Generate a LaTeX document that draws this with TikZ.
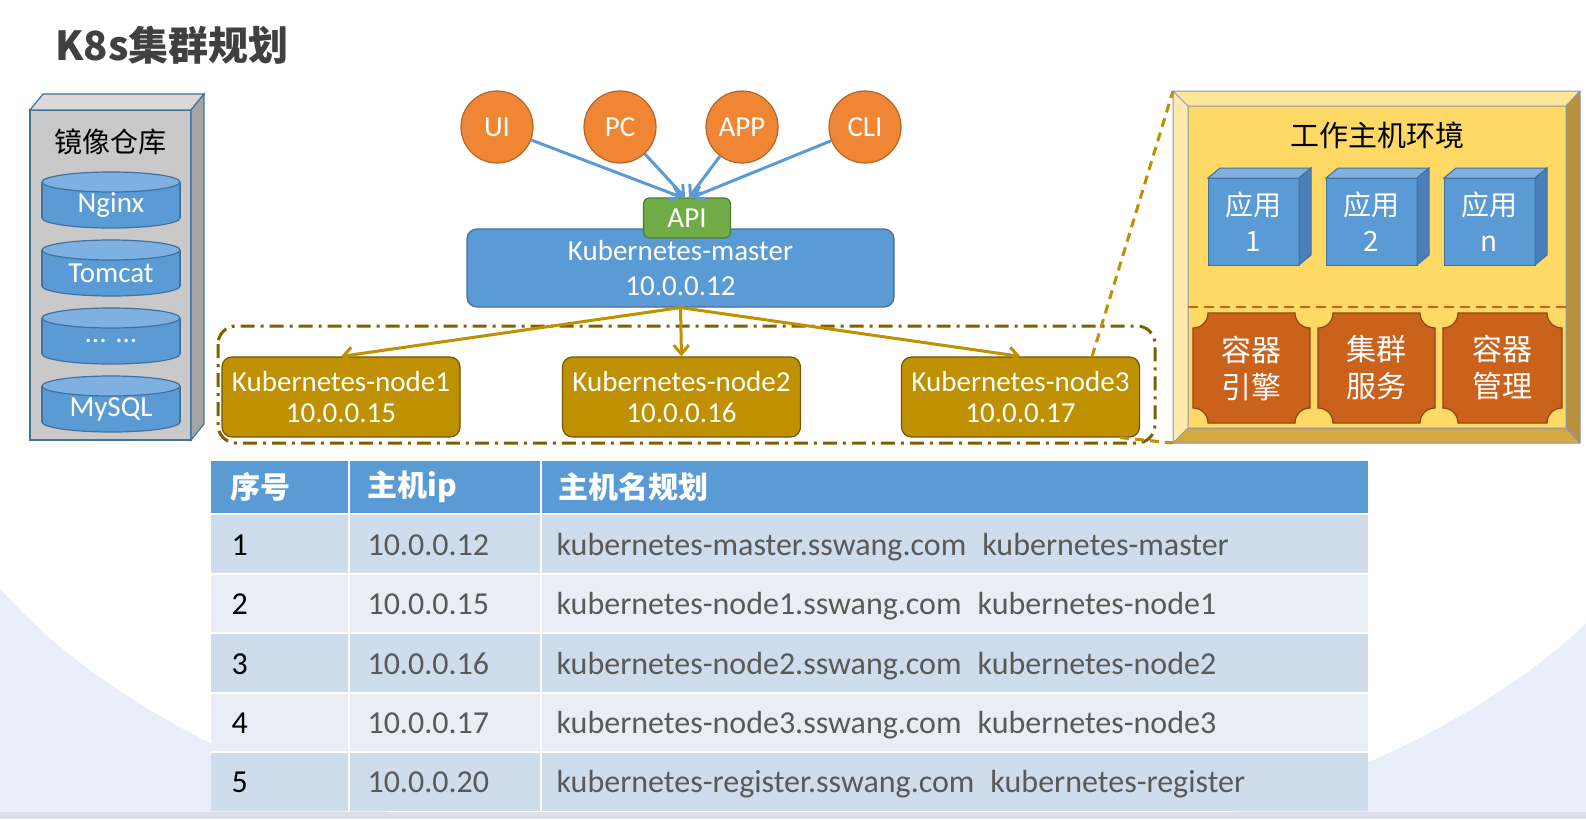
\documentclass[tikz,border=0pt]{standalone}
\usepackage{fontspec}
\setmainfont{Carlito}
\newfontfamily\cjk{Noto Sans CJK SC}
\usetikzlibrary{arrows.meta}

\definecolor{ktitle}{HTML}{404040}
\definecolor{kblue}{HTML}{5B9BD5}
\definecolor{kblueline}{HTML}{41719C}
\definecolor{kbluetop}{HTML}{7EB1E2}
\definecolor{kblueside}{HTML}{4A80B8}
\definecolor{korange}{HTML}{F08634}
\definecolor{kgreen}{HTML}{70AD47}
\definecolor{kgold}{HTML}{BF9000}
\definecolor{kbrown}{HTML}{7F6000}
\definecolor{krust}{HTML}{CB621C}
\definecolor{kyellow}{HTML}{FFD966}
\definecolor{bevtop}{HTML}{FFE699}
\definecolor{bevleft}{HTML}{FFEAAE}
\definecolor{bevright}{HTML}{B8913A}
\definecolor{bevbot}{HTML}{D4A843}
\definecolor{frameline}{HTML}{8497B0}
\definecolor{regfront}{HTML}{C9C9C9}
\definecolor{regtop}{HTML}{DADADA}
\definecolor{regside}{HTML}{A5A5A5}
\definecolor{bgblue}{HTML}{E9EEFB}
\definecolor{bandgray}{HTML}{DCE0EA}
\definecolor{rowdark}{HTML}{CFDCEC}
\definecolor{rowlight}{HTML}{E9EEF6}
\definecolor{celltext}{HTML}{595959}

% one database of the image store
\newcommand{\dbcyl}[3]{%
  \filldraw[fill=kblue,draw=kblueline,line width=1.2pt] (111,#2+46) ellipse (69 and 10);
  \fill[kblue] (42,#2+10) rectangle (180,#2+46);
  \draw[kblueline,line width=1.2pt] (42,#2+10) -- (42,#2+46) (180,#2+10) -- (180,#2+46);
  \filldraw[fill=kbluetop,draw=kblueline,line width=1.2pt] (111,#2+10) ellipse (69 and 10);
  \node[cyltext] (#1) at (111,#2+33) {#3};}

% box with hollow corners
\newcommand{\plaque}[4]{%
  \filldraw[fill=krust,draw=krust!70!black,line width=1.2pt]
    (#1+15,#2) -- (#3-15,#2) .. controls (#3-15,#2+8.3) and (#3-8.3,#2+15) .. (#3,#2+15)
    -- (#3,#4-15) .. controls (#3-8.3,#4-15) and (#3-15,#4-8.3) .. (#3-15,#4)
    -- (#1+15,#4) .. controls (#1+15,#4-8.3) and (#1+8.3,#4-15) .. (#1,#4-15)
    -- (#1,#2+15) .. controls (#1+8.3,#2+15) and (#1+15,#2+8.3) .. (#1+15,#2) -- cycle;}

\begin{document}
\begin{tikzpicture}[x=1pt,y=-1pt,
    client/.style={circle,draw=korange!75!black,fill=korange,line width=1.2pt,
      minimum size=72pt,inner sep=0pt,text=white,font=\fontsize{29}{35}\selectfont},
    apibox/.style={rectangle,rounded corners=6pt,fill=kgreen,draw=kgreen!70!black,
      line width=1.2pt,minimum width=87pt,minimum height=40pt,text=white,
      font=\fontsize{29}{35}\selectfont},
    masterbox/.style={rectangle,rounded corners=10pt,fill=kblue,draw=kblueline,
      line width=1.2pt,minimum width=427pt,minimum height=78pt,align=center,
      text=white,font=\fontsize{29}{35}\selectfont},
    workerbox/.style={rectangle,rounded corners=10pt,fill=kgold,draw=kgold!60!black,
      line width=1.2pt,minimum width=238pt,minimum height=80pt,align=center,
      text=white,font=\fontsize{29}{31}\selectfont},
    bluearrow/.style={draw=kblue,line width=3pt,-{Straight Barb[length=9pt,width=15pt]}},
    goldarrow/.style={draw=kgold,line width=3pt,-{Straight Barb[length=9pt,width=15pt]}},
    zoomline/.style={draw=kgold,line width=3pt,dash pattern=on 9pt off 6pt},
    cyltext/.style={text=white,font=\fontsize{29}{35}\selectfont},
    cube/.style={rectangle,fill=kblue,draw=kblueline,line width=1pt,outer sep=0pt,
      minimum width=91pt,minimum height=87pt,align=center,text=white,
      font=\cjk\fontsize{28}{36}\selectfont},
    ptext/.style={align=center,text=white,font=\cjk\fontsize{30}{37}\selectfont},
    headcell/.style={anchor=west,text=white,font=\cjk\bfseries\fontsize{30}{36}\selectfont},
    numcell/.style={anchor=base west,text=black,font=\fontsize{32}{38}\selectfont},
    cell/.style={anchor=base west,text=celltext,font=\fontsize{32}{38}\selectfont}]

  % page and background
  \useasboundingbox (0,0) rectangle (1586,819);
  \begin{scope}
    \clip (0,0) rectangle (1586,819);
    \fill[white] (0,0) rectangle (1586,819);
    \fill[bgblue] (0,370) rectangle (1586,819);
    \fill[white] (810,370) ellipse (900 and 500);
    \fill[bandgray] (0,812) rectangle (1586,819);
  \end{scope}

  \node[anchor=west,text=ktitle,font=\cjk\bfseries\fontsize{40}{48}\selectfont] (title) at (52,45) {K8s集群规划};

  % image store
  \node[rectangle,fill=regfront,draw=kblueline,line width=1.2pt,outer sep=0pt,
    minimum width=161pt,minimum height=330pt] (reg) at (110.5,275) {};
  \filldraw[fill=regtop,draw=kblueline,line width=1.2pt] (reg.north west) -- ++(13,-16) -- ++(161,0) -- (reg.north east) -- cycle;
  \filldraw[fill=regside,draw=kblueline,line width=1.2pt] (reg.north east) -- ++(13,-16) -- ++(0,330) -- (reg.south east) -- cycle;
  \node[text=black,font=\cjk\fontsize{28}{34}\selectfont] (regname) at (110,142) {镜像仓库};
  \dbcyl{nginx}{172}{Nginx}
  \dbcyl{tomcat}{240}{Tomcat}
  \dbcyl{more}{308}{... ...}
  \dbcyl{mysql}{376}{MySQL}

  % clients and master
  \node[client] (ui) at (497,127) {UI};
  \node[client] (pc) at (620,127) {PC};
  \node[client] (app) at (742,127) {APP};
  \node[client] (cli) at (865,127) {CLI};

  \node[masterbox] (master) at (680.5,268) {Kubernetes-master\\10.0.0.12};
  \node[apibox] (api) at (687,218) {API};

  \draw[bluearrow] (ui) -- ([xshift=-5pt]api.north);
  \draw[bluearrow] (pc) -- ([xshift=-2pt]api.north);
  \draw[bluearrow] (app) -- ([xshift=2pt]api.north);
  \draw[bluearrow] (cli) -- ([xshift=5pt]api.north);

  % worker nodes
  \draw[kbrown,line width=3pt,rounded corners=18pt,dash pattern=on 14pt off 6pt on 3pt off 6pt]
    (218,326) rectangle (1155,443);
  \node[workerbox] (node1) at (341,397) {Kubernetes-node1\\10.0.0.15};
  \node[workerbox] (node2) at (681.5,397) {Kubernetes-node2\\10.0.0.16};
  \node[workerbox] (node3) at (1020.5,397) {Kubernetes-node3\\10.0.0.17};

  \draw[goldarrow] (master.south) -- (node1.north);
  \draw[goldarrow] (master.south) -- (node2.north);
  \draw[goldarrow] (master.south) -- (node3.north);

  % work host environment
  \fill[bevtop] (1173,91) -- (1580,91) -- (1566,106) -- (1188,106) -- cycle;
  \fill[bevleft] (1173,91) -- (1188,106) -- (1188,428) -- (1173,443) -- cycle;
  \fill[bevright] (1580,91) -- (1580,443) -- (1566,428) -- (1566,106) -- cycle;
  \fill[bevbot] (1173,443) -- (1580,443) -- (1566,428) -- (1188,428) -- cycle;
  \fill[kyellow] (1188,106) rectangle (1566,428);
  \draw[frameline,line width=1pt] (1173,91) rectangle (1580,443)
    (1188,106) rectangle (1566,428)
    (1173,91) -- (1188,106) (1580,91) -- (1566,106)
    (1173,443) -- (1188,428) (1580,443) -- (1566,428);
  \coordinate (envtl) at (1173,91);
  \coordinate (envbl) at (1173,443);
  \draw[zoomline] ([xshift=-48pt]node3.north east) -- (envtl);
  \draw[zoomline] ([xshift=-20pt]node3.south east) -- (envbl);

  \node[text=black,font=\cjk\fontsize{29}{35}\selectfont] (envname) at (1377,135) {工作主机环境};

  \node[cube] (app1) at (1253.5,221.5) {应用\\1};
  \node[cube] (app2) at (1371.5,221.5) {应用\\2};
  \node[cube] (appn) at (1489.5,221.5) {应用\\n};
  \filldraw[fill=kbluetop,draw=kblueline,line width=1pt] (app1.north west) -- ++(12,-10) -- ++(91,0) -- (app1.north east) -- cycle;
  \filldraw[fill=kblueside,draw=kblueline,line width=1pt] (app1.north east) -- ++(12,-10) -- ++(0,87) -- (app1.south east) -- cycle;
  \filldraw[fill=kbluetop,draw=kblueline,line width=1pt] (app2.north west) -- ++(12,-10) -- ++(91,0) -- (app2.north east) -- cycle;
  \filldraw[fill=kblueside,draw=kblueline,line width=1pt] (app2.north east) -- ++(12,-10) -- ++(0,87) -- (app2.south east) -- cycle;
  \filldraw[fill=kbluetop,draw=kblueline,line width=1pt] (appn.north west) -- ++(12,-10) -- ++(91,0) -- (appn.north east) -- cycle;
  \filldraw[fill=kblueside,draw=kblueline,line width=1pt] (appn.north east) -- ++(12,-10) -- ++(0,87) -- (appn.south east) -- cycle;

  \draw[krust,line width=2.5pt,dash pattern=on 10pt off 6pt] (1188,307) -- (1566,307);

  \plaque{1193}{313}{1310}{423}
  \plaque{1318}{313}{1435}{423}
  \plaque{1443}{313}{1562}{423}
  \node[ptext] (engine) at (1251.5,368) {容器\\引擎};
  \node[ptext] (service) at (1376.5,368) {集群\\服务};
  \node[ptext] (manage) at (1502.5,368) {容器\\管理};

  % host table
  \fill[kblue] (211,461) rectangle (1368,514);
  \fill[rowdark] (211,514) rectangle (1368,574);
  \fill[rowlight] (211,574) rectangle (1368,633);
  \fill[rowdark] (211,633) rectangle (1368,693);
  \fill[rowlight] (211,693) rectangle (1368,752);
  \fill[rowdark] (211,752) rectangle (1368,811);
  \draw[white,line width=2.5pt] (211,514) -- (1368,514) (211,574) -- (1368,574)
    (211,633) -- (1368,633) (211,693) -- (1368,693) (211,752) -- (1368,752)
    (349,461) -- (349,811) (541,461) -- (541,811);

  \node[headcell] (hnum) at (227,487) {序号};
  \node[headcell] (hip) at (364,487) {主机ip};
  \node[headcell] (hname) at (555,487) {主机名规划};

  \node[numcell] (r1) at (228,555) {1};
  \node[cell] (ip1) at (364,555) {10.0.0.12};
  \node[cell] (name1) at (553,555) {kubernetes-master.sswang.com\hspace{16pt}kubernetes-master};
  \node[numcell] (r2) at (228,614) {2};
  \node[cell] (ip2) at (364,614) {10.0.0.15};
  \node[cell] (name2) at (553,614) {kubernetes-node1.sswang.com\hspace{16pt}kubernetes-node1};
  \node[numcell] (r3) at (228,674) {3};
  \node[cell] (ip3) at (364,674) {10.0.0.16};
  \node[cell] (name3) at (553,674) {kubernetes-node2.sswang.com\hspace{16pt}kubernetes-node2};
  \node[numcell] (r4) at (228,733) {4};
  \node[cell] (ip4) at (364,733) {10.0.0.17};
  \node[cell] (name4) at (553,733) {kubernetes-node3.sswang.com\hspace{16pt}kubernetes-node3};
  \node[numcell] (r5) at (228,792) {5};
  \node[cell] (ip5) at (364,792) {10.0.0.20};
  \node[cell] (name5) at (553,792) {kubernetes-register.sswang.com\hspace{16pt}kubernetes-register};
\end{tikzpicture}
\end{document}
